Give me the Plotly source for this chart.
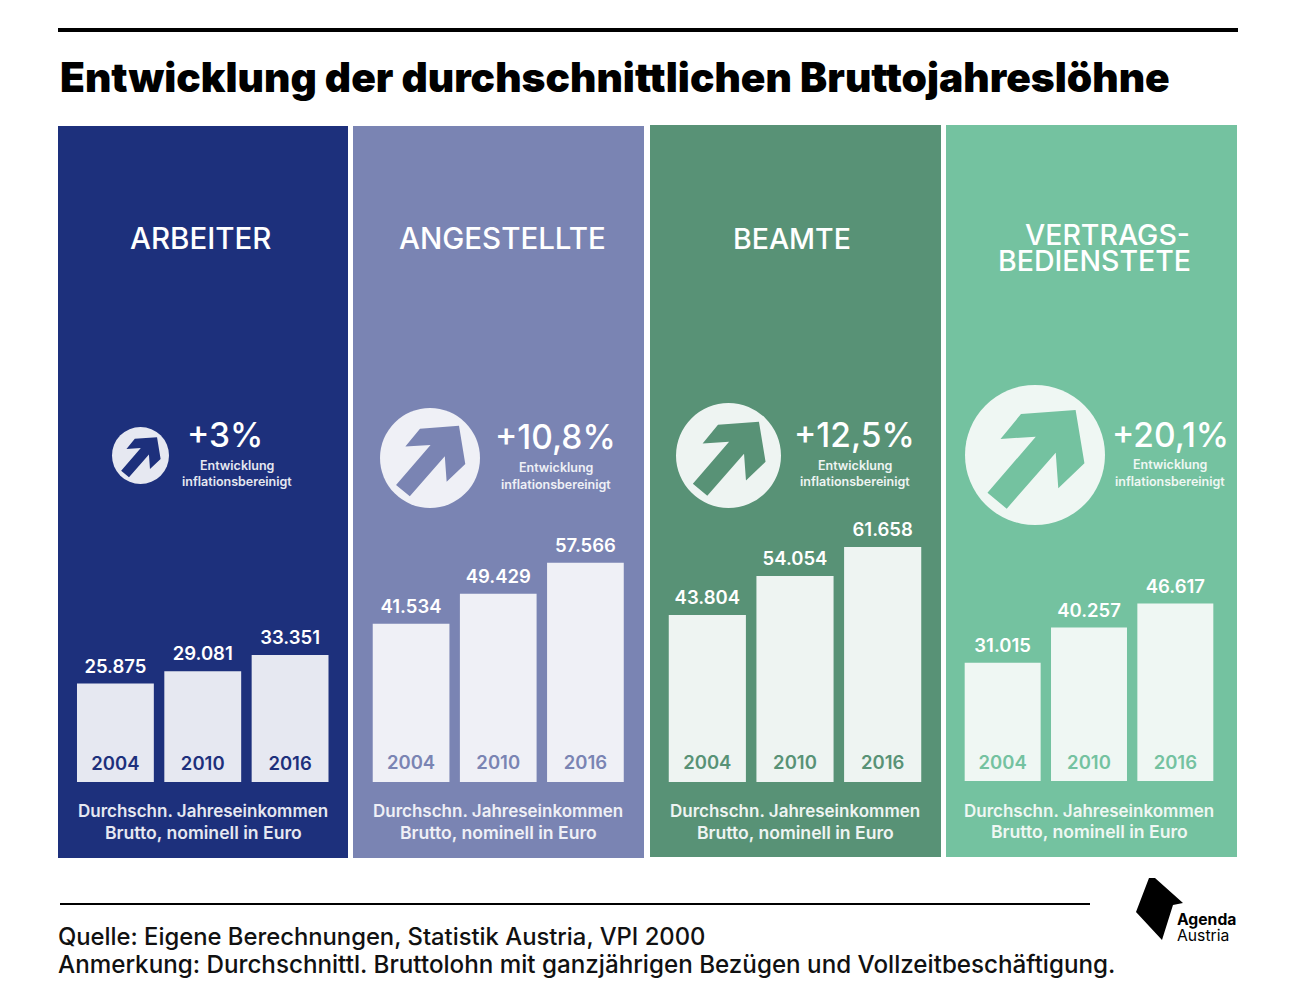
#!/usr/bin/env python3
import plotly.graph_objects as go

W, H = 1300, 1001
FONT = "Inter"
PAGE_MARGIN = 8  # browser default body margin

TITLE = "Entwicklung der durchschnittlichen Bruttojahreslöhne"
YEARS = ["2004", "2010", "2016"]
GROUPS = ["ARBEITER", "ANGESTELLTE", "BEAMTE", "VERTRAGS-BEDIENSTETE"]
ARBEITER = [25875, 29081, 33351]
ANGESTELLTE = [41534, 49429, 57566]
BEAMTE = [43804, 54054, 61658]
VERTRAGSBEDIENSTETE = [31015, 40257, 46617]
CHANGE = ["+3%", "+10,8%", "+12,5%", "+20,1%"]

PANEL_COLORS = ["#1d307c", "#7a84b3", "#589276", "#74c2a0"]
BAR_COLORS = ["#e6e8f1", "#eff0f6", "#eef4f2", "#eff7f3"]

SOURCE = "Quelle: Eigene Berechnungen, Statistik Austria, VPI 2000"
NOTE = "Anmerkung: Durchschnittl. Bruttolohn mit ganzjährigen Bezügen und Vollzeitbeschäftigung."

# layout in page pixels
panel_box = [(58, 348, 126, 858), (353, 644, 126, 858), (650, 941, 125, 857), (946, 1237, 125, 857)]
plot_box = [(71.75, 333.75, 782), (367.5, 629, 782), (663.5, 926.5, 782), (959.5, 1218.5, 781)]
circle = [(140.5, 455.5, 28.5), (430, 458, 50), (728.5, 455.5, 52.5), (1035, 455, 70)]
change_pos = [(225, 435), (555, 437), (854, 435), (1170, 435)]
sub_pos = [(237, 465, 481), (556, 467, 484), (855, 465, 481), (1170, 464, 481)]
foot_pos = [(203, 811, 832), (498, 811, 832), (795, 811, 832), (1089, 811, 831)]
year_y = [765, 764.5, 764.5, 764.5]
arrow = [(0.58, -0.643), (-0.2, -0.586), (-0.493, -0.229), (0.011, -0.261), (-0.679, 0.539),
         (-0.404, 0.767), (0.296, -0.033), (0.333, 0.476), (0.706, 0.119)]
logo = [(1149, 878), (1155, 878), (1183, 903), (1173, 905), (1162, 940), (1136, 912)]


def fx(x):
    return (x - PAGE_MARGIN) / W


def fy(y):
    return 1 - (y - PAGE_MARGIN) / H


def px_path(points):
    return "M " + " L ".join(f"{fx(x):.5f},{fy(y):.5f}" for x, y in points) + " Z"


def label(x, y, text, size, color="white", weight=500, anchor="center"):
    fig.add_annotation(x=fx(x), y=fy(y), xref="paper", yref="paper", text=text, showarrow=False,
                       xanchor=anchor, yanchor="middle", align=anchor,
                       font=dict(family=FONT, size=size, color=color, weight=weight))


fig = go.Figure()
series = [ARBEITER, ANGESTELLTE, BEAMTE, VERTRAGSBEDIENSTETE]
px_per_euro = 0.00381
hidden = dict(showticklabels=False, showgrid=False, zeroline=False, showline=False, ticks="", fixedrange=True)

for i, values in enumerate(series):
    x0, x1, y0, y1 = panel_box[i]
    fig.add_shape(type="rect", xref="paper", yref="paper", x0=fx(x0), x1=fx(x1), y0=fy(y0), y1=fy(y1),
                  fillcolor=PANEL_COLORS[i], line_width=0, layer="below")

    left, right, base = plot_box[i]
    xa = "x" if i == 0 else f"x{i + 1}"
    ya = "y" if i == 0 else f"y{i + 1}"
    fig.add_trace(go.Bar(x=YEARS, y=values, xaxis=xa, yaxis=ya, marker_color=BAR_COLORS[i],
                         marker_line_width=0, width=0.88, showlegend=False))
    # value labels above the bars, year labels inside at the foot
    fig.add_trace(go.Scatter(x=YEARS, y=[v + 15.5 / px_per_euro for v in values], xaxis=xa, yaxis=ya, mode="text",
                             text=[f"{v:,}".replace(",", ".") for v in values], textposition="middle center",
                             textfont=dict(family=FONT, size=18.5, color="white", weight=600), showlegend=False))
    fig.add_trace(go.Scatter(x=YEARS, y=[(base - year_y[i]) / px_per_euro] * 3, xaxis=xa, yaxis=ya, mode="text",
                             text=YEARS, textposition="middle center",
                             textfont=dict(family=FONT, size=18.5, color=PANEL_COLORS[i], weight=600),
                             showlegend=False))
    top = base - 300
    fig.update_layout({
        xa.replace("x", "xaxis"): dict(domain=[fx(left), fx(right)], type="category", range=[-0.5, 2.5],
                                       anchor=ya, **hidden),
        ya.replace("y", "yaxis"): dict(domain=[fy(base), fy(top)], range=[0, 300 / px_per_euro],
                                       anchor=xa, **hidden),
    })

    cx, cy, r = circle[i]
    fig.add_shape(type="circle", xref="paper", yref="paper", x0=fx(cx - r), x1=fx(cx + r),
                  y0=fy(cy - r), y1=fy(cy + r), fillcolor=BAR_COLORS[i], line_width=0)
    fig.add_shape(type="path", xref="paper", yref="paper", fillcolor=PANEL_COLORS[i], line_width=0,
                  path=px_path([(cx + dx * r, cy + dy * r) for dx, dy in arrow]))

    label(*change_pos[i], CHANGE[i], 33.5, weight=500)
    sx, sy0, sy1 = sub_pos[i]
    label(sx, sy0, "Entwicklung", 12.5, BAR_COLORS[i], 600)
    label(sx, sy1, "inflationsbereinigt", 12.5, BAR_COLORS[i], 600)
    fx0, fy0, fy1 = foot_pos[i]
    label(fx0, fy0, "Durchschn. Jahreseinkommen", 17, BAR_COLORS[i], 600)
    label(fx0, fy1, "Brutto, nominell in Euro", 17.6, BAR_COLORS[i], 600)

label(201, 238, GROUPS[0], 29.5)
label(502, 238, GROUPS[1], 29.5)
label(792, 238, GROUPS[2], 28.5)
label(1107, 234, "VERTRAGS-", 28.5)
label(1094, 260, "BEDIENSTETE", 28.5)

fig.add_shape(type="line", xref="paper", yref="paper", x0=fx(58), x1=fx(1238), y0=fy(30), y1=fy(30),
              line=dict(color="black", width=4))
fig.add_shape(type="line", xref="paper", yref="paper", x0=fx(60), x1=fx(1090), y0=fy(904), y1=fy(904),
              line=dict(color="black", width=2))
fig.add_shape(type="path", xref="paper", yref="paper", path=px_path(logo), fillcolor="black", line_width=0)

label(58, 77, TITLE, 40.7, "black", 900, "left")
label(56, 936, SOURCE, 23.8, "#111111", 500, "left")
label(56, 964, NOTE, 24.2, "#111111", 500, "left")
label(1175, 919, "Agenda", 15.7, "black", 700, "left")
label(1175, 935, "Austria", 15.7, "black", 400, "left")

fig.update_layout(width=W, height=H, margin=dict(l=0, r=0, t=0, b=0), paper_bgcolor="white",
                  plot_bgcolor="rgba(0,0,0,0)", showlegend=False, bargap=0.12)

fig.write_html("out.html")
